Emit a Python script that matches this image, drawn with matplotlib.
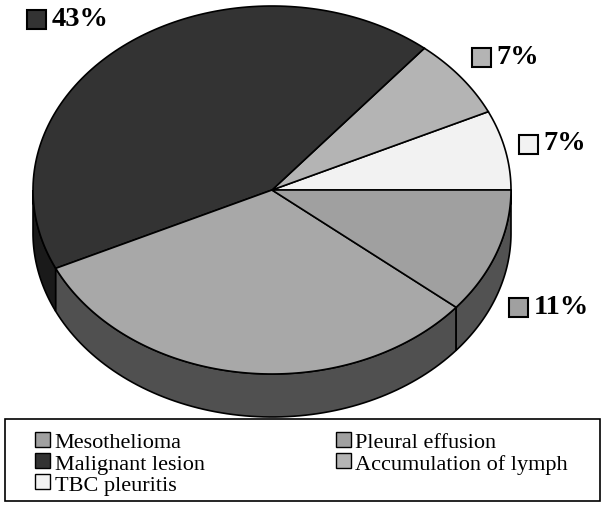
import numpy as np
import matplotlib
matplotlib.use("Agg")
import matplotlib.pyplot as plt
from matplotlib.patches import Polygon, Rectangle

# slice data, counter-clockwise starting at 3 o'clock
labels = ["TBC pleuritis", "Accumulation of lymph", "Malignant lesion",
          "Mesothelioma", "Pleural effusion"]
values = [7, 7, 43, 32, 11]
top_colors = ["#f2f2f2", "#b4b4b4", "#333333", "#a8a8a8", "#a0a0a0"]
side_colors = ["#7a7a7a", "#5a5a5a", "#1a1a1a", "#505050", "#525252"]
pct_text = ["7%", "7%", "43%", "", "11%"]

# legend order as in the original (two columns)
legend_order = ["Mesothelioma", "Malignant lesion", "TBC pleuritis",
                "Pleural effusion", "Accumulation of lymph"]
legend_colors = {"Mesothelioma": "#a0a0a0", "Malignant lesion": "#333333",
                 "TBC pleuritis": "#f2f2f2", "Pleural effusion": "#a0a0a0",
                 "Accumulation of lymph": "#b4b4b4"}

# label box positions (pixel layout, y from the top)
label_pos = [(528, 145), (481, 58), (36, 20), None, (518, 308)]

W, H = 605, 506
fig = plt.figure(figsize=(W / 100, H / 100), dpi=100)
ax = fig.add_axes([0, 0, 1, 1])
ax.set_xlim(0, W)
ax.set_ylim(0, H)
ax.axis("off")

# pie geometry in pixels
cx, cy = 272, H - 191
a, b = 239, 184
depth = 43


def ell(t):
    return cx + a * np.cos(t), cy + b * np.sin(t)


bounds = np.concatenate([[0], np.cumsum(values)]) / sum(values) * 2 * np.pi

# side walls (front half only)
for i in range(len(values)):
    s0 = max(bounds[i], np.pi)
    s1 = min(bounds[i + 1], 2 * np.pi)
    if s1 <= s0:
        continue
    t = np.linspace(s0, s1, 80)
    x, y = ell(t)
    pts = np.column_stack([np.concatenate([x, x[::-1]]),
                           np.concatenate([y, y[::-1] - depth])])
    ax.add_patch(Polygon(pts, closed=True, facecolor=side_colors[i],
                         edgecolor="black", linewidth=1.2, zorder=1))

# top face
for i in range(len(values)):
    t = np.linspace(bounds[i], bounds[i + 1], 120)
    x, y = ell(t)
    pts = np.column_stack([np.concatenate([[cx], x]), np.concatenate([[cy], y])])
    ax.add_patch(Polygon(pts, closed=True, facecolor=top_colors[i],
                         edgecolor="black", linewidth=1.2, zorder=2))

# percentage labels
box = 19
for i, txt in enumerate(pct_text):
    if not txt:
        continue
    bx, by = label_pos[i]
    ax.add_patch(Rectangle((bx - box / 2, H - by - box / 2), box, box,
                           facecolor=top_colors[i], edgecolor="black",
                           linewidth=1.5, zorder=3))
    ax.text(bx + box / 2 + 6, H - by + 1, txt, fontsize=20.5, fontweight="bold",
            family="Liberation Serif", va="center", ha="left", zorder=3)

# legend frame drawn by hand, legend itself without frame
ax.add_patch(Rectangle((5, H - 502), 595, 82, facecolor="white",
                       edgecolor="black", linewidth=1.2, zorder=4))
handles = [Rectangle((0, 0), 1, 1, facecolor=legend_colors[n],
                     edgecolor="black", linewidth=1) for n in legend_order]
leg = fig.legend(handles, legend_order, loc="upper left", ncol=2,
                 bbox_to_anchor=(35 / W, 1 - 433 / H),
                 prop={"family": "Liberation Serif", "size": 16},
                 handlelength=0.68, handleheight=0.68, handletextpad=0.2,
                 labelspacing=0.03, borderpad=0, borderaxespad=0,
                 columnspacing=5.9, frameon=False)

fig.savefig("out.png", dpi=100)
